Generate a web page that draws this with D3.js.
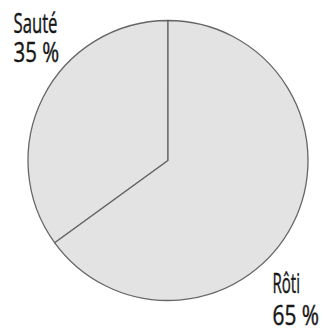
<!DOCTYPE html>
<html>
<head>
<meta charset="utf-8">
<script src="https://cdn.jsdelivr.net/npm/d3@7"></script>
<style>
  html, body { margin: 0; padding: 0; background: #fff; }
  svg { display: block; }
  text { font-family: "Open Sans", "Noto Sans", sans-serif; fill: #161616; stroke: #161616; stroke-width: 0.45px; }
</style>
</head>
<body>
<svg id="chart" width="323" height="331"></svg>
<script>
// Cooking methods and their shares (%)
const categories = ["Sauté", "Rôti"];
const values = [35, 65];
const valueLabels = ["35 %", "65 %"];

const width = 323, height = 331;
const cx = 168, cy = 160.5, radius = 140;

const svg = d3.select("#chart");
const g = svg.append("g").attr("transform", `translate(${cx},${cy})`);

// Sauté runs counter-clockwise from 12 o'clock, Rôti takes the rest
const pie = d3.pie().sort(null).value(d => d.value)
  .startAngle(0).endAngle(-2 * Math.PI);
const data = categories.map((c, i) => ({ name: c, value: values[i], label: valueLabels[i] }));
const arcs = pie(data);
const arc = d3.arc().innerRadius(0).outerRadius(radius);

g.selectAll("path.slice")
  .data(arcs)
  .join("path")
  .attr("class", "slice")
  .attr("d", arc)
  .attr("fill", "#e3e3e3")
  .attr("stroke", "#666")
  .attr("stroke-width", 1.3)
  .attr("stroke-linejoin", "round");

// Condensed two-line labels at opposite corners
const labelLayout = [
  { x: 13.5, nameY: 33, valueY: 62, nameW: 44, valueW: 45.5 },
  { x: 272.5, nameY: 292.5, valueY: 325, nameW: 27.5, valueW: 46.5 }
];
const fontSize = 27.5;
const lbl = svg.selectAll("g.label")
  .data(data)
  .join("g")
  .attr("class", "label");
lbl.append("text")
  .attr("font-size", fontSize)
  .attr("x", (d, i) => labelLayout[i].x)
  .attr("y", (d, i) => labelLayout[i].nameY)
  .attr("textLength", (d, i) => labelLayout[i].nameW)
  .attr("lengthAdjust", "spacingAndGlyphs")
  .text(d => d.name);
lbl.append("text")
  .attr("font-size", fontSize)
  .attr("x", (d, i) => labelLayout[i].x)
  .attr("y", (d, i) => labelLayout[i].valueY)
  .attr("textLength", (d, i) => labelLayout[i].valueW)
  .attr("lengthAdjust", "spacingAndGlyphs")
  .text(d => d.label);
</script>
</body>
</html>
